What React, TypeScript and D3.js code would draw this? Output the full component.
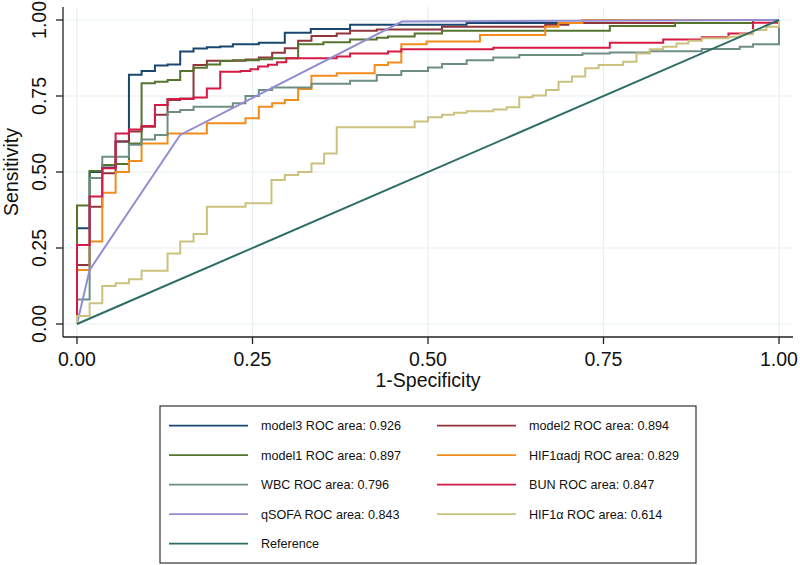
import React from "react";
import * as d3 from "d3";

// ---- data ----
const xTicks = [0, 0.25, 0.5, 0.75, 1];
const yTicks = [0, 0.25, 0.5, 0.75, 1];
const xTickLabels = ["0.00", "0.25", "0.50", "0.75", "1.00"];
const yTickLabels = ["0.00", "0.25", "0.50", "0.75", "1.00"];

// step curves: at fpr x, sensitivity rises to y
const model3Steps: number[][] = [[0,0.315],[0.018,0.5],[0.036,0.515],[0.055,0.6],[0.074,0.82],[0.092,0.832],[0.111,0.85],[0.129,0.854],[0.147,0.896],[0.166,0.906],[0.185,0.91],[0.204,0.913],[0.222,0.92],[0.259,0.925],[0.296,0.958],[0.333,0.97],[0.389,0.984],[0.555,0.99],[0.963,1.0]];
const model2Steps: number[][] = [[0,0.194],[0.018,0.386],[0.036,0.496],[0.055,0.6],[0.074,0.633],[0.092,0.649],[0.111,0.688],[0.129,0.737],[0.147,0.742],[0.166,0.852],[0.185,0.866],[0.24,0.87],[0.259,0.877],[0.278,0.892],[0.296,0.907],[0.315,0.932],[0.334,0.947],[0.37,0.956],[0.389,0.965],[0.427,0.969],[0.52,0.978],[0.667,0.984],[0.7,0.99],[0.963,1.0]];
const model1Steps: number[][] = [[0,0.39],[0.018,0.503],[0.036,0.523],[0.055,0.526],[0.074,0.594],[0.092,0.792],[0.111,0.797],[0.129,0.803],[0.147,0.832],[0.166,0.843],[0.185,0.854],[0.204,0.865],[0.222,0.868],[0.259,0.871],[0.278,0.874],[0.315,0.92],[0.351,0.927],[0.389,0.936],[0.427,0.942],[0.443,0.946],[0.481,0.956],[0.52,0.965],[0.759,0.98],[0.852,0.99],[0.963,1.0]];
const hif1adjSteps: number[][] = [[0,0.178],[0.018,0.271],[0.036,0.432],[0.055,0.5],[0.074,0.536],[0.092,0.594],[0.129,0.627],[0.185,0.66],[0.24,0.677],[0.259,0.715],[0.278,0.726],[0.296,0.737],[0.315,0.773],[0.334,0.817],[0.37,0.825],[0.424,0.852],[0.443,0.86],[0.462,0.92],[0.498,0.929],[0.574,0.951],[0.667,0.978],[0.686,0.99],[0.72,1.0]];
const wbcSteps: number[][] = [[0,0.081],[0.018,0.48],[0.036,0.55],[0.074,0.59],[0.092,0.607],[0.111,0.622],[0.129,0.697],[0.147,0.704],[0.166,0.715],[0.222,0.726],[0.24,0.75],[0.259,0.77],[0.278,0.778],[0.334,0.79],[0.389,0.8],[0.427,0.819],[0.462,0.832],[0.5,0.844],[0.52,0.855],[0.555,0.868],[0.593,0.877],[0.63,0.885],[0.72,0.89],[0.759,0.893],[0.816,0.897],[0.89,0.905],[0.944,0.912],[0.963,0.92],[1.0,1.0]];
const bunSteps: number[][] = [[0,0.26],[0.018,0.419],[0.036,0.512],[0.055,0.627],[0.074,0.64],[0.092,0.651],[0.111,0.72],[0.129,0.74],[0.166,0.745],[0.185,0.775],[0.204,0.83],[0.233,0.832],[0.247,0.838],[0.258,0.847],[0.272,0.853],[0.285,0.861],[0.298,0.874],[0.37,0.88],[0.389,0.89],[0.443,0.896],[0.462,0.904],[0.593,0.909],[0.759,0.925],[0.835,0.936],[0.89,0.943],[0.928,0.956],[0.963,0.991],[1.0,1.0]];
const hif1Steps: number[][] = [[0,0.026],[0.018,0.068],[0.036,0.125],[0.055,0.134],[0.074,0.147],[0.092,0.175],[0.129,0.232],[0.147,0.271],[0.166,0.296],[0.185,0.386],[0.24,0.397],[0.277,0.474],[0.296,0.49],[0.315,0.5],[0.334,0.528],[0.352,0.561],[0.37,0.647],[0.481,0.666],[0.5,0.68],[0.52,0.688],[0.537,0.695],[0.555,0.7],[0.593,0.706],[0.612,0.713],[0.63,0.746],[0.649,0.752],[0.668,0.77],[0.686,0.797],[0.705,0.814],[0.724,0.841],[0.743,0.852],[0.778,0.863],[0.797,0.89],[0.816,0.904],[0.835,0.912],[0.854,0.923],[0.871,0.932],[0.89,0.94],[0.928,0.945],[0.944,0.953],[0.963,0.967],[0.982,0.978],[1.0,1.0]];
// straight-line curves (vertices)
const qsofaPoints: number[][] = [[0,0],[0.018,0.178],[0.147,0.622],[0.463,0.995],[1,1]];
const referencePoints: number[][] = [[0,0],[1,1]];

const seriesNames = ["model3","model2","model1","HIF1αadj","WBC","BUN","qSOFA","HIF1α","Reference"];
const seriesAreas = ["0.926","0.894","0.897","0.829","0.796","0.847","0.843","0.614",""];
const seriesColors = ["#1a476f","#90353b","#55752f","#f28c1c","#6e8e84","#d41a45","#938dd2","#cac27e","#2d6d66"];

function expandSteps(steps: number[][]): number[][] {
  const pts: number[][] = [[0, 0]];
  let prev = 0;
  for (const [x, y] of steps) {
    pts.push([x, prev]);
    pts.push([x, y]);
    prev = y;
  }
  if (steps[steps.length - 1][0] < 1) pts.push([1, prev]);
  return pts;
}

const curves: number[][][] = [
  expandSteps(model3Steps),
  expandSteps(model2Steps),
  expandSteps(model1Steps),
  expandSteps(hif1adjSteps),
  expandSteps(wbcSteps),
  expandSteps(bunSteps),
  qsofaPoints,
  expandSteps(hif1Steps),
  referencePoints,
];

export default function App() {
  const W = 800, H = 565;
  const x = d3.scaleLinear().domain([0, 1]).range([77, 779]);
  const y = d3.scaleLinear().domain([0, 1]).range([324, 20]);
  const line = d3.line<number[]>().x(d => x(d[0])).y(d => y(d[1]));
  const font = "'Liberation Sans', Arial, Helvetica, sans-serif";
  const plotL = 63, plotR = 793, plotT = 7, plotB = 337;
  const gridColor = "#e6eff2";

  const legendX = 160, legendY = 406, legendW = 536, legendH = 157;
  const rowGap = 29.5;

  return (
    <svg width={W} height={H} style={{ position: "absolute", left: 0, top: 0, background: "#fff" }} fontFamily={font}>
      <rect x={0} y={0} width={W} height={H} fill="#fff" />
      {/* grid */}
      {yTicks.map((t, i) => (
        <line key={"gy" + i} x1={plotL} x2={plotR} y1={y(t)} y2={y(t)} stroke={gridColor} strokeWidth={1.2} />
      ))}
      {xTicks.map((t, i) => (
        <line key={"gx" + i} x1={x(t)} x2={x(t)} y1={plotT} y2={plotB} stroke={gridColor} strokeWidth={1.2} />
      ))}
      {/* curves */}
      {curves.map((c, i) => (
        <path key={"c" + i} d={line(c) || ""} fill="none" stroke={seriesColors[i]} strokeWidth={2} strokeLinejoin="miter" />
      ))}
      {/* axes */}
      <line x1={plotL} x2={plotL} y1={plotT} y2={plotB} stroke="#222" strokeWidth={1.3} />
      <line x1={plotL} x2={plotR} y1={plotB} y2={plotB} stroke="#222" strokeWidth={1.3} />
      {yTicks.map((t, i) => (
        <g key={"yt" + i}>
          <line x1={plotL - 7} x2={plotL} y1={y(t)} y2={y(t)} stroke="#222" strokeWidth={1.3} />
          <text transform={`translate(46,${y(t)}) rotate(-90)`} textAnchor="middle" fontSize={19.5} fill="#111">{yTickLabels[i]}</text>
        </g>
      ))}
      {xTicks.map((t, i) => (
        <g key={"xt" + i}>
          <line x1={x(t)} x2={x(t)} y1={plotB} y2={plotB + 7} stroke="#222" strokeWidth={1.3} />
          <text x={x(t)} y={366} textAnchor="middle" fontSize={19.5} fill="#111">{xTickLabels[i]}</text>
        </g>
      ))}
      <text x={428} y={387} textAnchor="middle" fontSize={19.5} fill="#111">1-Specificity</text>
      <text transform={`translate(18,${y(0.5)}) rotate(-90)`} textAnchor="middle" fontSize={19.5} fill="#111">Sensitivity</text>
      {/* legend */}
      <rect x={legendX} y={legendY} width={legendW} height={legendH} fill="#fff" stroke="#333" strokeWidth={1.2} />
      {seriesNames.map((n, i) => {
        const col = i % 2, row = Math.floor(i / 2);
        const lx = col === 0 ? 169 : 437;
        const cy = 425.7 + row * rowGap;
        const label = seriesAreas[i] ? `${n} ROC area: ${seriesAreas[i]}` : n;
        return (
          <g key={"lg" + i}>
            <line x1={lx} x2={lx + 79} y1={cy} y2={cy} stroke={seriesColors[i]} strokeWidth={1.8} />
            <text x={lx + 92} y={cy + 4.5} fontSize={12.6} fill="#111">{label}</text>
          </g>
        );
      })}
    </svg>
  );
}
